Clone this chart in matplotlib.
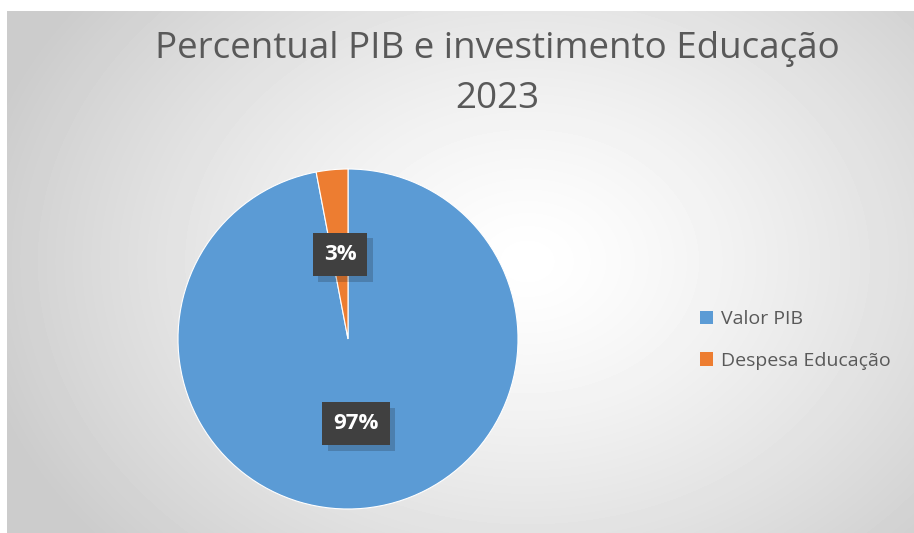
import numpy as np
import matplotlib.pyplot as plt
import matplotlib.patheffects as pe
from matplotlib.patches import Patch

# data
categories = ['Valor PIB', 'Despesa Educação']
shares = [97, 3]
colors = ['#5B9BD5', '#ED7D31']
title = 'Percentual PIB e investimento Educação\n2023'

W, H = 914, 533
fig = plt.figure(figsize=(W / 100, H / 100), dpi=100)
fig.patch.set_facecolor('white')

# radial gradient background of the chart area
bg = fig.add_axes([7 / W, 0, 1 - 7 / W, 1 - 11 / H])
yy, xx = np.mgrid[0:H - 11, 0:W - 7]
d = np.sqrt(((xx - 520) / 560) ** 2 + ((yy - 250) / 430) ** 2)
shade = 1 - 0.2 * np.clip(d, 0, 1) ** 1.3
bg.imshow(shade, cmap='gray', vmin=0, vmax=1, aspect='auto', interpolation='bilinear')
bg.set_axis_off()

# title
fig.text(497 / W, 1 - 74 / H, title, ha='center', va='center', fontsize=26.5,
         color='#595959', family='Open Sans', linespacing=1.55)

# pie
cx, cy, r = 348, 339, 170
ax = fig.add_axes([(cx - r) / W, (H - cy - r) / H, 2 * r / W, 2 * r / H])
wedges, texts, autotexts = ax.pie(shares, colors=colors, startangle=90, counterclock=False,
                                  autopct='%1.0f%%', pctdistance=0.5,
                                  wedgeprops=dict(linewidth=0.8, edgecolor='white'))
for t in autotexts:
    t.set_color('white')
    t.set_fontsize(16)
    t.set_fontweight('bold')
    t.set_family('Open Sans')
    t.set_bbox(dict(boxstyle='square,pad=0.5', facecolor='#404040', edgecolor='none'))
    t.get_bbox_patch().set_path_effects([pe.SimplePatchShadow(offset=(4, -4), alpha=0.2), pe.Normal()])
ax.set_xlim(-1, 1)
ax.set_ylim(-1, 1)
ax.set_aspect('auto')

# legend
handles = [Patch(facecolor=c, label=l) for c, l in zip(colors, categories)]
fig.legend(handles=handles, loc='center left', bbox_to_anchor=(682 / W, 1 - 340 / H),
           frameon=False, labelcolor='#595959', handlelength=0.7, handleheight=0.7,
           handletextpad=0.4, labelspacing=1.2, prop={'family': 'Open Sans', 'size': 14})

fig.savefig('out.png', dpi=100)
